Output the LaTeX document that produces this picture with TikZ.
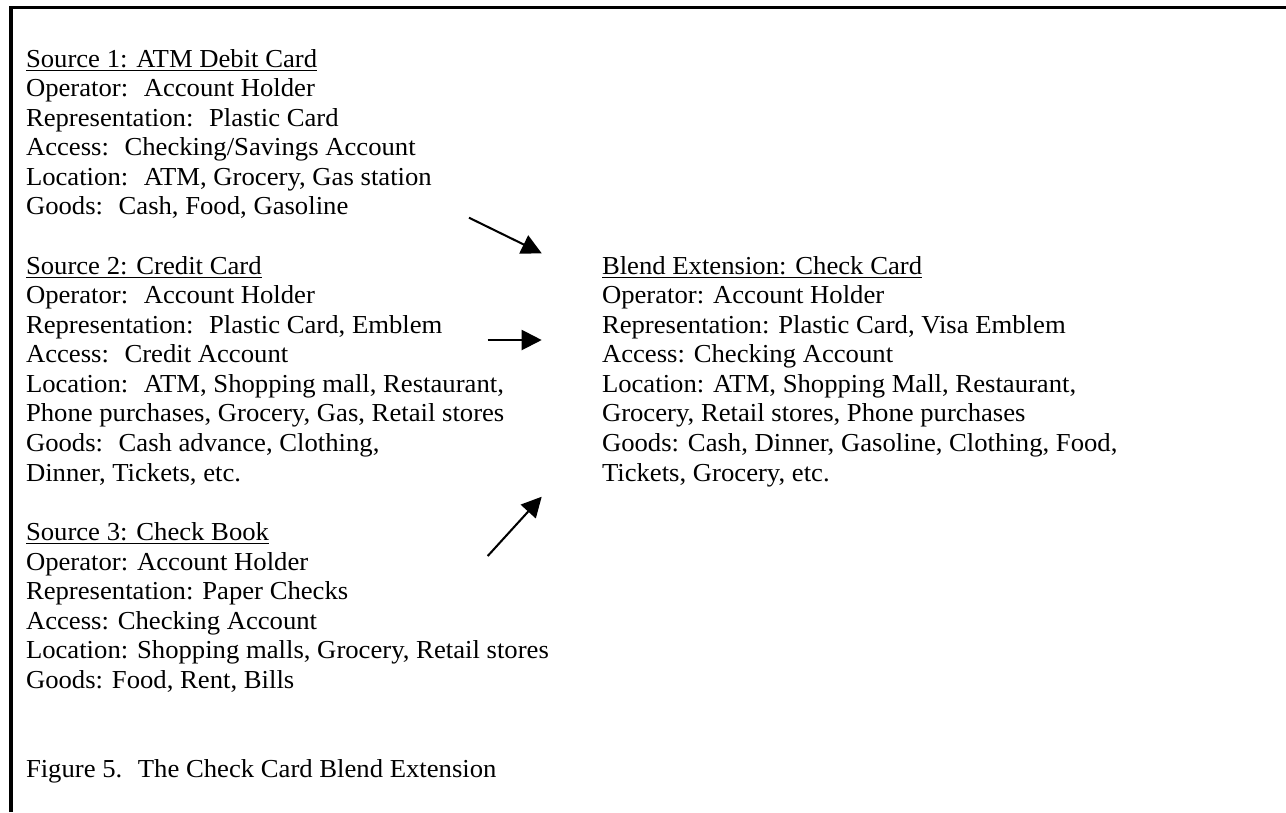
\documentclass[tikz,border=0pt]{standalone}
\usepackage{fontspec}
\setmainfont{Liberation Serif}[FakeStretch=1.03]
\usetikzlibrary{arrows.meta}
\begin{document}
\begin{tikzpicture}[x=0.4633pt,y=-0.4633pt,
  txt/.style={anchor=base west,inner sep=0pt,outer sep=0pt,font=\fontsize{12}{13.7}\selectfont},
  frame/.style={line width=1.65pt,line join=miter},
  arr/.style={line width=0.95pt,-{Triangle[length=9.3pt,width=9.3pt]}}]
\useasboundingbox (0,0) rectangle (1286,812);
\draw[frame] (11,812) -- (11,7.5) -- (1286,7.5);
\node[txt] (src1) at (26,67) {\begin{tabular}[t]{@{}l@{}}
\underline{Source 1: ATM Debit Card}\\
Operator:~ Account Holder\\
Representation:~ Plastic Card\\
Access:~ Checking/Savings Account\\
Location:~ ATM, Grocery, Gas station\\
Goods:~ Cash, Food, Gasoline
\end{tabular}};
\node[txt] (src2) at (26,274) {\begin{tabular}[t]{@{}l@{}}
\underline{Source 2: Credit Card}\\
Operator:~ Account Holder\\
Representation:~ Plastic Card, Emblem\\
Access:~ Credit Account\\
Location:~ ATM, Shopping mall, Restaurant,\\
Phone purchases, Grocery, Gas, Retail stores\\
Goods:~ Cash advance, Clothing,\\
Dinner, Tickets, etc.
\end{tabular}};
\node[txt] (src3) at (26,540.5) {\begin{tabular}[t]{@{}l@{}}
\underline{Source 3: Check Book}\\
Operator: Account Holder\\
Representation: Paper Checks\\
Access: Checking Account\\
Location: Shopping malls, Grocery, Retail stores\\
Goods: Food, Rent, Bills
\end{tabular}};
\node[txt] (blend) at (602,274) {\begin{tabular}[t]{@{}l@{}}
\underline{Blend Extension: Check Card}\\
Operator: Account Holder\\
Representation: Plastic Card, Visa Emblem\\
Access: Checking Account\\
Location: ATM, Shopping Mall, Restaurant,\\
Grocery, Retail stores, Phone purchases\\
Goods: Cash, Dinner, Gasoline, Clothing, Food,\\
Tickets, Grocery, etc.
\end{tabular}};
\node[txt] (caption) at (26,777) {Figure 5.~ The Check Card Blend Extension};
\coordinate (a1s) at (469,217.7);
\coordinate (a1e) at (541.7,253.3);
\coordinate (a2s) at (487.7,340);
\coordinate (a2e) at (541.7,340);
\coordinate (a3s) at (487.7,556);
\coordinate (a3e) at (541.7,496.7);
\draw[arr] (a1s) -- (a1e);
\draw[arr] (a2s) -- (a2e);
\draw[arr] (a3s) -- (a3e);
\end{tikzpicture}
\end{document}
